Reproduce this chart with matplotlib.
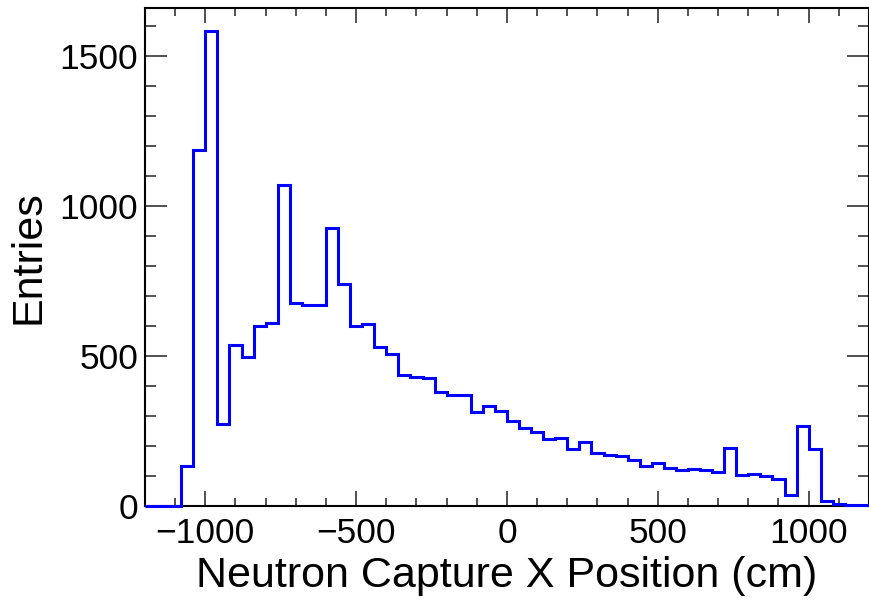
import numpy as np
import matplotlib.pyplot as plt
from matplotlib.ticker import MultipleLocator

plt.rcParams['font.family'] = ['Liberation Sans', 'DejaVu Sans']

# 60 bins of 40 cm from -1200 to 1200
bin_edges = np.linspace(-1200, 1200, 61)
entries = [0, 0, 0, 133, 1188, 1582, 275, 536, 497, 601,
           611, 1071, 678, 669, 669, 928, 739, 600, 608, 530,
           507, 436, 431, 427, 379, 370, 370, 312, 332, 317,
           284, 260, 246, 223, 228, 189, 214, 177, 171, 166,
           152, 132, 143, 127, 119, 123, 119, 115, 195, 102,
           108, 99, 90, 38, 266, 189, 17, 8, 4, 4]

fig = plt.figure(figsize=(8.7, 6.06), dpi=100)
ax = fig.add_axes([145/870, 100/606, 724/870, 498/606])

ax.stairs(entries, bin_edges, color=(0, 0, 1), lw=2.2, clip_on=False, zorder=3)

ax.set_xlim(-1200, 1200)
ax.set_ylim(0, 1660)
ax.xaxis.set_major_locator(MultipleLocator(500))
ax.xaxis.set_minor_locator(MultipleLocator(100))
ax.yaxis.set_major_locator(MultipleLocator(500))
ax.yaxis.set_minor_locator(MultipleLocator(100))

ax.tick_params(axis='both', which='both', direction='in', top=True, right=True,
               width=1.1, labelsize=25.5, color='#222222')
ax.tick_params(axis='x', which='major', length=10.8, pad=8)
ax.tick_params(axis='x', which='minor', length=5.8)
ax.tick_params(axis='y', which='major', length=15.6, pad=5)
ax.tick_params(axis='y', which='minor', length=7.9)
for s in ax.spines.values():
    s.set_linewidth(1.5)

ax.set_xlabel("Neutron Capture X Position (cm)", fontsize=31, labelpad=4)
ax.set_ylabel("Entries", fontsize=31, labelpad=8)

fig.savefig("out.png", dpi=100)
